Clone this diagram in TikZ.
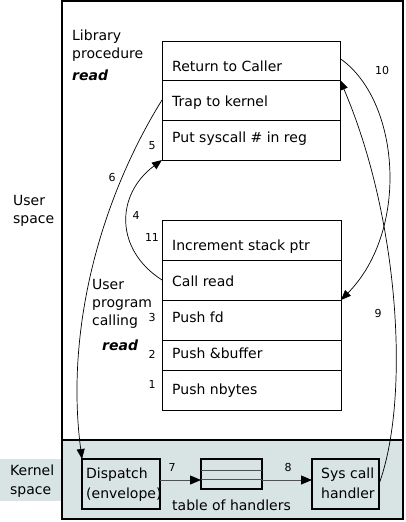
\documentclass[tikz,border=0pt]{standalone}
\usepackage{fontspec}
\setmainfont{DejaVu Sans}
\usetikzlibrary{arrows.meta}
\definecolor{kern}{RGB}{216,228,227}
\definecolor{arrgray}{RGB}{80,80,80}
\begin{document}
\begin{tikzpicture}[x=1pt,y=-1pt,
  rowbox/.style={draw,line width=0.8pt,minimum width=178pt,inner sep=0pt,outer sep=0pt},
  lbl/.style={anchor=west,inner sep=0pt,font=\fontsize{14}{16}\selectfont},
  num/.style={inner sep=0pt,font=\fontsize{11}{13}\selectfont},
  kbox/.style={draw,line width=1.6pt,inner sep=0pt,outer sep=0pt},
  conn/.style={line width=0.7pt,-{Triangle[length=10pt,width=8pt]}},
  kconn/.style={draw=arrgray,line width=1pt,-{Triangle[length=11pt,width=9pt,color=black]}}
]
\useasboundingbox (0,0) rectangle (406,522);
% kernel area
\fill[kern] (62,440) rectangle (403,519);
\fill[kern] (0,459) rectangle (61,501);
\draw[line width=1.8pt] (62,1) rectangle (403,519);
\draw[line width=1.8pt] (62,440) -- (403,440);

% side labels
\node[lbl,anchor=base west] (us1) at (13,205) {User};
\node[lbl,anchor=base west] (us2) at (13,223) {space};
\node[lbl,anchor=base west] (ks1) at (10,475) {Kernel};
\node[lbl,anchor=base west] (ks2) at (10,494) {space};

\node[lbl,anchor=base west] (lp1) at (72,40) {Library};
\node[lbl,anchor=base west] (lp2) at (72,58) {procedure};
\node[lbl,anchor=base west] (lp3) at (72,80) {\bfseries\itshape read};

\node[lbl,anchor=base west] (up1) at (92,289) {User};
\node[lbl,anchor=base west] (up2) at (92,307) {program};
\node[lbl,anchor=base west] (up3) at (92,325) {calling};
\node[lbl,anchor=base west] (up4) at (102,350) {\bfseries\itshape read};

% library procedure box
\node[rowbox,minimum height=39pt] (ret) at (251,60.5) {};
\node[rowbox,minimum height=40pt] (trap) at (251,100) {};
\node[rowbox,minimum height=40pt] (put) at (251,140) {};
\node[lbl,anchor=base west] (tret) at (172,71) {Return to Caller};
\node[lbl,anchor=base west] (ttrap) at (172,106) {Trap to kernel};
\node[lbl,anchor=base west] (tput) at (172,142) {Put syscall \# in reg};

% user program box
\node[rowbox,minimum height=40pt,minimum width=179pt] (inc) at (251.5,240) {};
\node[rowbox,minimum height=40pt,minimum width=179pt] (call) at (251.5,280) {};
\node[rowbox,minimum height=40pt,minimum width=179pt] (pfd) at (251.5,320) {};
\node[rowbox,minimum height=30pt,minimum width=179pt] (pbuf) at (251.5,355) {};
\node[rowbox,minimum height=40pt,minimum width=179pt] (pnb) at (251.5,390) {};
\node[lbl,anchor=base west] (tinc) at (172,250) {Increment stack ptr};
\node[lbl,anchor=base west] (tcall) at (172,286) {Call read};
\node[lbl,anchor=base west] (tpfd) at (172,322) {Push fd};
\node[lbl,anchor=base west] (tpbuf) at (172,358) {Push \&buffer};
\node[lbl,anchor=base west] (tpnb) at (172,394) {Push nbytes};

% numbers
\node[num] (n5) at (152,146) {5};
\node[num] (n6) at (112,177) {6};
\node[num] (n4) at (136,215) {4};
\node[num] (n11) at (152,237) {11};
\node[num] (n3) at (152,317) {3};
\node[num] (n2) at (152,354) {2};
\node[num] (n1) at (152,384) {1};
\node[num] (n10) at (382,70) {10};
\node[num] (n9) at (378,313) {9};
\node[num] (n7) at (172,467) {7};
\node[num] (n8) at (288,467) {8};

% kernel boxes
\node[kbox,minimum width=78pt,minimum height=50pt] (disp) at (121,484) {};
\node[lbl,anchor=base west] (tdisp1) at (86,478) {Dispatch};
\node[lbl,anchor=base west] (tdisp2) at (86,498) {(envelope)};
\node[kbox,minimum width=61pt,minimum height=30pt] (tab) at (231.5,474) {};
\draw[arrgray,line width=0.8pt] (tab.west|-0,470) -- (tab.east|-0,470);
\draw[arrgray,line width=0.8pt] (tab.west|-0,479) -- (tab.east|-0,479);
\node[lbl,anchor=base] (ttab) at (231.5,510) {table of handlers};
\node[kbox,minimum width=67pt,minimum height=50pt] (sys) at (345.5,484) {};
\node[lbl,anchor=base west] (tsys1) at (321,478) {Sys call};
\node[lbl,anchor=base west] (tsys2) at (321,498) {handler};

\draw[kconn] (disp.east|-0,480) -- (tab.west|-0,480);
\draw[kconn] (tab.east|-0,480) -- (sys.west|-0,480);

% curves
\draw[conn] (trap.west) .. controls (100,200) and (65,330) .. (disp.north west);
\draw[conn] (call.west) .. controls (115,250) and (115,195) .. (put.south west);
\draw[conn] ([yshift=2pt]ret.east) .. controls (400,100) and (410,230) .. (call.south east);
\draw[conn] (sys.east) .. controls (410,400) and (400,220) .. (trap.north east);
\end{tikzpicture}
\end{document}
